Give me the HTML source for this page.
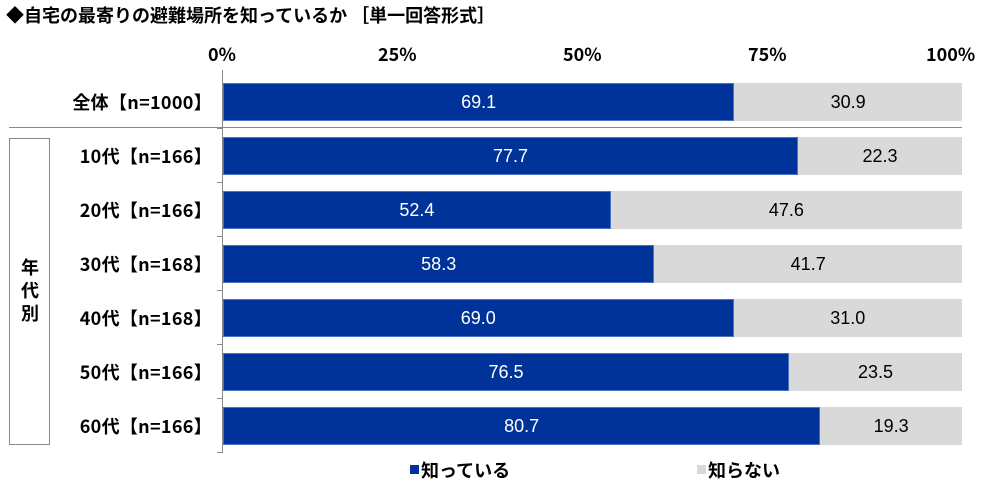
<!DOCTYPE html><html><head><meta charset="utf-8"><style>
body{margin:0;width:1000px;height:492px;background:#fff;font-family:"Noto Sans CJK JP","Liberation Sans",sans-serif;font-weight:bold;position:relative;overflow:hidden}
.a{position:absolute}
.t{font-size:18px;color:#000;white-space:nowrap;line-height:1}
.bar{position:absolute;height:38px;display:flex;font-size:18px;font-family:"Liberation Sans",sans-serif;font-weight:normal}
.b{background:#003399;color:#fff;display:flex;align-items:center;justify-content:center;box-shadow:inset 0 0 0 1px #4a72c4}
.g{background:#d9d9d9;color:#000;display:flex;align-items:center;justify-content:center}
.lab{position:absolute;right:788px;font-size:18px;line-height:1;transform:translateY(-50%);white-space:nowrap;letter-spacing:0.3px}
</style></head><body>
<div class="a t" style="left:6px;top:6px;font-size:18px">◆自宅の最寄りの避難場所を知っているか ［単一回答形式］</div>
<div class="a t" style="left:208px;top:45px">0%</div>
<div class="a t" style="left:378px;top:45px">25%</div>
<div class="a t" style="left:563px;top:45px">50%</div>
<div class="a t" style="left:748px;top:45px">75%</div>
<div class="a t" style="left:926px;top:45px">100%</div>
<div class="a" style="left:222px;top:70px;width:1px;height:383px;background:#888"></div>
<div class="a" style="left:9px;top:127px;width:953px;height:1px;background:#888"></div>
<div class="a" style="left:9px;top:138px;width:39px;height:305px;border:1px solid #888"></div>
<div class="a t" style="left:19px;top:256px;width:22px;line-height:23px;text-align:center">年<br>代<br>別</div>
<div id="c"></div>
<div class="a" style="left:410px;top:465px;width:9px;height:9px;background:#003399"></div>
<div class="a t" style="left:421px;top:461px">知っている</div>
<div class="a" style="left:697px;top:465px;width:9px;height:9px;background:#d9d9d9"></div>
<div class="a t" style="left:708px;top:461px">知らない</div>
<script>
var d=[["全体【n=1000】",69.1,102],["10代【n=166】",77.7,156],["20代【n=166】",52.4,210],["30代【n=168】",58.3,264],["40代【n=168】",69.0,318],["50代【n=166】",76.5,372],["60代【n=166】",80.7,426]];
var h="";d.forEach(function(r){var w=r[1]*7.4;
h+='<div class="lab" style="top:'+r[2]+'px">'+r[0]+'</div>';
h+='<div class="a" style="left:217px;top:'+(r[2]+26)+'px;width:5px;height:1px;background:#888"></div>';
h+='<div class="bar" style="left:223px;top:'+(r[2]-19)+'px;width:739px"><div class="b" style="width:'+w+'px">'+r[1].toFixed(1)+'</div><div class="g" style="flex:1">'+(100-r[1]).toFixed(1)+'</div></div>';});
document.getElementById("c").innerHTML=h;
</script>
</body></html>
